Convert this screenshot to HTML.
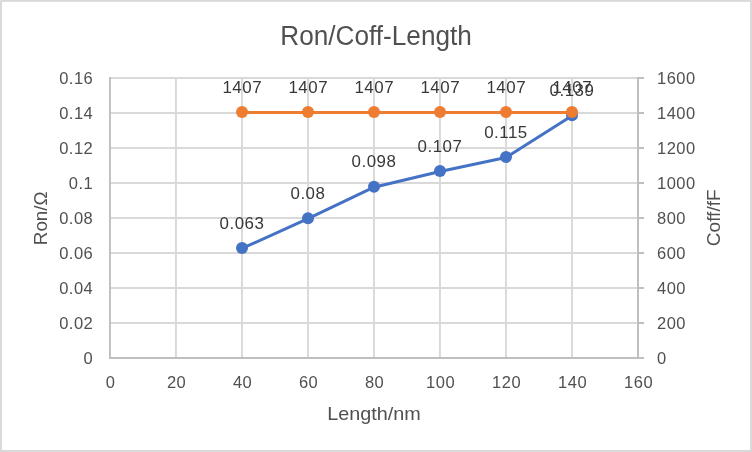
<!DOCTYPE html>
<html lang="en">
<head>
<meta charset="utf-8">
<title>Ron/Coff-Length</title>
<style>
html,body{margin:0;padding:0;background:#fff;}
body{width:752px;height:452px;overflow:hidden;}
svg{display:block;}
text{font-family:"Liberation Sans", sans-serif;}
</style>
</head>
<body>
<svg width="752" height="452" viewBox="0 0 752 452">
<rect x="0" y="0" width="752" height="452" fill="#ffffff"/>
<g fill="#D9D9D9">
<rect x="0" y="0" width="752" height="1.85"/>
<rect x="0" y="0" width="1.9" height="452"/>
<rect x="750" y="0" width="2" height="452"/>
<rect x="0" y="450" width="752" height="2"/>
</g>
<rect x="0" y="0" width="1" height="1" fill="#eaeaea"/>
<g fill="#D9D9D9">
<rect x="110" y="77" width="528" height="2"/>
<rect x="110" y="112" width="528" height="2"/>
<rect x="110" y="147" width="528" height="2"/>
<rect x="110" y="182" width="528" height="2"/>
<rect x="110" y="217" width="528" height="2"/>
<rect x="110" y="252" width="528" height="2"/>
<rect x="110" y="287" width="528" height="2"/>
<rect x="110" y="322" width="528" height="2"/>
<rect x="175" y="78" width="1.9" height="280"/>
<rect x="241" y="78" width="1.9" height="280"/>
<rect x="307" y="78" width="1.9" height="280"/>
<rect x="373" y="78" width="1.9" height="280"/>
<rect x="439" y="78" width="1.9" height="280"/>
<rect x="505" y="78" width="1.9" height="280"/>
<rect x="571" y="78" width="1.9" height="280"/>
</g>
<g fill="#BFBFBF">
<rect x="109" y="77" width="1.9" height="282"/>
<rect x="637" y="77" width="2" height="282"/>
<rect x="109" y="357" width="535" height="2"/>
<rect x="638" y="77" width="6" height="2"/>
<rect x="638" y="112" width="6" height="2"/>
<rect x="638" y="147" width="6" height="2"/>
<rect x="638" y="182" width="6" height="2"/>
<rect x="638" y="217" width="6" height="2"/>
<rect x="638" y="252" width="6" height="2"/>
<rect x="638" y="287" width="6" height="2"/>
<rect x="638" y="322" width="6" height="2"/>
</g>
<polyline points="242.00,248.45 308.00,218.70 374.00,187.20 440.00,171.45 506.00,157.45 572.00,115.80" fill="none" stroke="#4472C4" stroke-width="3.0" stroke-linejoin="round" stroke-linecap="round"/>
<g fill="#4472C4">
<circle cx="242.00" cy="248.00" r="6"/>
<circle cx="308.00" cy="218.25" r="6"/>
<circle cx="374.00" cy="186.75" r="6"/>
<circle cx="440.00" cy="171.00" r="6"/>
<circle cx="506.00" cy="157.00" r="6"/>
<circle cx="572.00" cy="115.35" r="6"/>
</g>
<line x1="242.00" y1="112.50" x2="572.00" y2="112.50" stroke="#ED7D31" stroke-width="3.0"/>
<g fill="#ED7D31">
<circle cx="242.00" cy="112.10" r="6"/>
<circle cx="308.00" cy="112.10" r="6"/>
<circle cx="374.00" cy="112.10" r="6"/>
<circle cx="440.00" cy="112.10" r="6"/>
<circle cx="506.00" cy="112.10" r="6"/>
<circle cx="572.00" cy="112.10" r="6"/>
</g>
<g font-size="16.9" letter-spacing="0.5" fill="#383838" text-anchor="middle">
<text x="241.95" y="228.70">0.063</text>
<text x="307.95" y="198.95">0.08</text>
<text x="373.95" y="167.45">0.098</text>
<text x="439.95" y="151.70">0.107</text>
<text x="505.95" y="137.70">0.115</text>
<text x="571.95" y="96.05">0.139</text>
<text x="242.25" y="92.95">1407</text>
<text x="308.25" y="92.95">1407</text>
<text x="374.25" y="92.95">1407</text>
<text x="440.25" y="92.95">1407</text>
<text x="506.25" y="92.95">1407</text>
<text x="572.25" y="92.95">1407</text>
</g>
<g font-size="16.5" letter-spacing="0.5" fill="#505050">
<g text-anchor="end">
<text x="93.3" y="363.90">0</text>
<text x="93.3" y="328.90">0.02</text>
<text x="93.3" y="293.90">0.04</text>
<text x="93.3" y="258.90">0.06</text>
<text x="93.3" y="223.90">0.08</text>
<text x="93.3" y="188.90">0.1</text>
<text x="93.3" y="153.90">0.12</text>
<text x="93.3" y="118.90">0.14</text>
<text x="93.3" y="83.90">0.16</text>
</g>
<g text-anchor="start">
<text x="657.0" y="363.90">0</text>
<text x="657.0" y="328.90">200</text>
<text x="657.0" y="293.90">400</text>
<text x="657.0" y="258.90">600</text>
<text x="657.0" y="223.90">800</text>
<text x="657.0" y="188.90">1000</text>
<text x="657.0" y="153.90">1200</text>
<text x="657.0" y="118.90">1400</text>
<text x="657.0" y="83.90">1600</text>
</g>
<g text-anchor="middle">
<text x="110.60" y="387.9">0</text>
<text x="176.60" y="387.9">20</text>
<text x="242.60" y="387.9">40</text>
<text x="308.60" y="387.9">60</text>
<text x="374.60" y="387.9">80</text>
<text x="440.60" y="387.9">100</text>
<text x="506.60" y="387.9">120</text>
<text x="572.60" y="387.9">140</text>
<text x="638.60" y="387.9">160</text>
</g>
</g>
<text x="376.1" y="44.5" font-size="26.8" fill="#505050" text-anchor="middle" textLength="191.5" lengthAdjust="spacingAndGlyphs">Ron/Coff-Length</text>
<text x="374.0" y="419.6" font-size="18.5" fill="#505050" text-anchor="middle" textLength="93.6" lengthAdjust="spacingAndGlyphs">Length/nm</text>
<text transform="translate(46.9 218.3) rotate(-90)" font-size="18.75" fill="#505050" text-anchor="middle" textLength="53.8" lengthAdjust="spacingAndGlyphs">Ron/Ω</text>
<text transform="translate(719.9 217.8) rotate(-90)" font-size="18.75" fill="#505050" text-anchor="middle" textLength="56.8" lengthAdjust="spacingAndGlyphs">Coff/fF</text>
</svg>
</body>
</html>
